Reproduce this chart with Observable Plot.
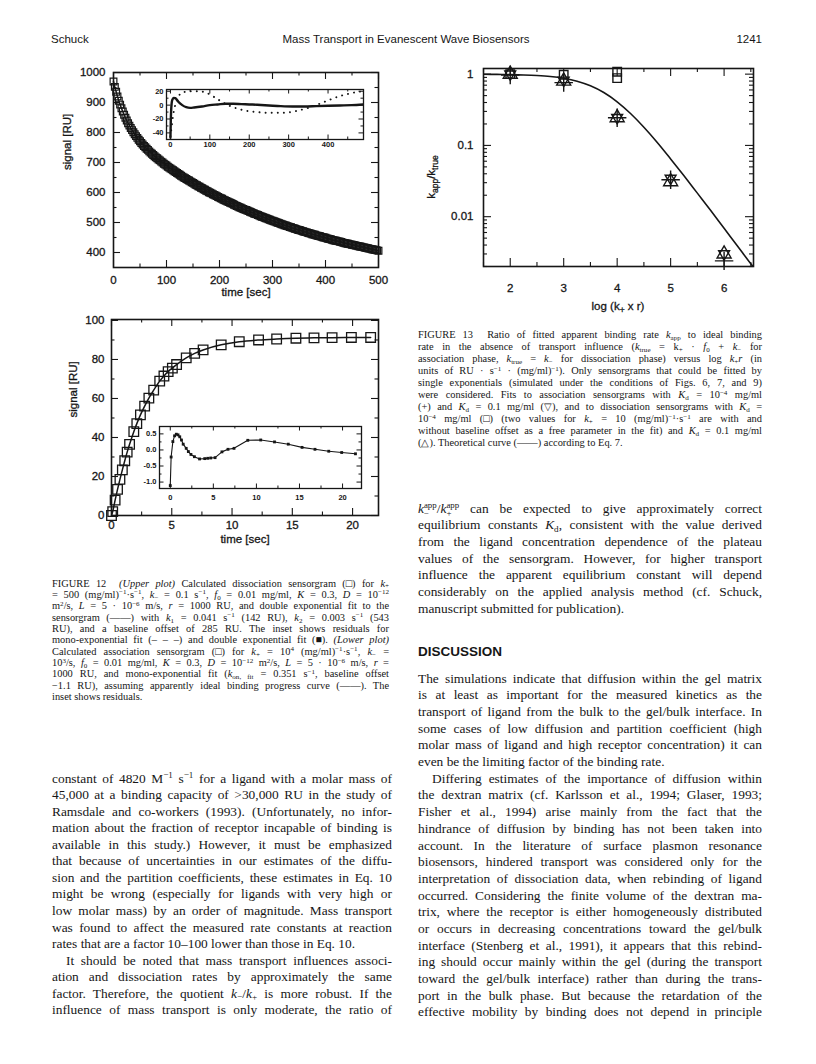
<!DOCTYPE html>
<html><head><meta charset="utf-8">
<script src="https://cdn.jsdelivr.net/npm/d3@7"></script>
<script src="https://cdn.jsdelivr.net/npm/@observablehq/plot@0.6"></script>
<style>
body{margin:0;background:#fff;}
#page{position:relative;width:816px;height:1064px;overflow:hidden;background:#fff;color:#161616;}
.hdr{position:absolute;font-family:"Liberation Sans",Arial,sans-serif;font-size:11.5px;line-height:14px;white-space:nowrap;}
.ln{position:absolute;white-space:nowrap;font-family:"Liberation Serif","Times New Roman",serif;}
.ln sup,.ln sub{font-size:0.68em;line-height:0;position:relative;vertical-align:baseline;}
.ln sup{top:-0.48em;}
.ln sub{top:0.28em;}
.ss{display:inline-block;vertical-align:-0.38em;font-size:0.66em;line-height:0.95;}
.ss span{display:block;}
.disc{position:absolute;font-family:"Liberation Sans",Arial,sans-serif;font-weight:bold;font-size:13.5px;line-height:16px;}
svg{position:absolute;overflow:visible;}
svg.main text{stroke:#161616;stroke-width:0.3px;}
</style></head><body><div id="page"></div>
<script>
const INK = "#161616";
const SANS = "'Liberation Sans', Arial, Helvetica, sans-serif";

// ---------- Figure 12, upper plot: dissociation sensorgram (time in s, signal in RU) ----------
const dissocTime = [0,2.5,5,7.5,10,12.5,15,17.5,20,22.5,25,27.5,30,32.5,35,37.5,40,42.5,45,47.5,50,52.5,55,57.5,60,62.5,65,67.5,70,72.5,75,77.5,80,82.5,85,87.5,90,92.5,95,97.5,100,102.5,105,107.5,110,112.5,115,117.5,120,122.5,125,127.5,130,132.5,135,137.5,140,142.5,145,147.5,150,152.5,155,157.5,160,162.5,165,167.5,170,172.5,175,177.5,180,182.5,185,187.5,190,192.5,195,197.5,200,202.5,205,207.5,210,212.5,215,217.5,220,222.5,225,227.5,230,232.5,235,237.5,240,242.5,245,247.5,250,252.5,255,257.5,260,262.5,265,267.5,270,272.5,275,277.5,280,282.5,285,287.5,290,292.5,295,297.5,300,302.5,305,307.5,310,312.5,315,317.5,320,322.5,325,327.5,330,332.5,335,337.5,340,342.5,345,347.5,350,352.5,355,357.5,360,362.5,365,367.5,370,372.5,375,377.5,380,382.5,385,387.5,390,392.5,395,397.5,400,402.5,405,407.5,410,412.5,415,417.5,420,422.5,425,427.5,430,432.5,435,437.5,440,442.5,445,447.5,450,452.5,455,457.5,460,462.5,465,467.5,470,472.5,475,477.5,480,482.5,485,487.5,490,492.5,495,497.5,500];
const dissocSignal = [970,952,936,920,906,893,881,870,859,849,840,831,823,815,808,801,794,788,782,776,771,765,760,755,751,746,742,737,733,729,725,721,717,714,710,707,703,700,696,693,690,686,683,680,677,674,671,668,665,662,659,656,653,650,648,645,642,640,637,634,632,629,626,624,621,619,616,614,611,609,606,604,601,599,597,594,592,590,588,585,583,581,579,576,574,572,570,568,566,564,562,559,557,555,553,551,549,547,545,543,542,540,538,536,534,532,530,528,527,525,523,521,519,518,516,514,513,511,509,507,506,504,503,501,499,498,496,494,493,491,490,488,487,485,484,482,481,479,478,476,475,474,472,471,469,468,467,465,464,463,461,460,459,457,456,455,454,452,451,450,449,447,446,445,444,442,441,440,439,438,437,436,435,433,432,431,430,429,428,427,426,425,424,423,422,421,420,419,418,417,416,415,414,413,412,411,410,409,408,407,406];
const upperXTicks = [0,100,200,300,400,500];
const upperXMinor = [50,150,250,350,450];
const upperYTicks = [400,500,600,700,800,900,1000];
const upperYMinor = [450,550,650,750,850,950];

// inset: residuals
const monoResTime = [0,3,6,10,15,20,30,50,70,90,110,130,150,170,190,210,230,250,270,290,310,330,350,370,390,410,430,450,470,490];
const monoResValue = [-45,-32,-18,-5,5,12,18,20,20,18,12,5,-1,-5,-8,-9.5,-10.5,-11,-11,-11,-9.5,-7,-4,0,4.5,9,13,16,18.5,20];
const dblResTime = [0,1,3,5,8,12,16,20,30,40,50,60,80,100,120,140,160,180,200,220,250,280,310,340,370,400,430,460,490];
const dblResValue = [-47,-20,2,8,10.5,10,8,5,0,-3,-4,-3.5,-2,0,1,2,2,1.5,1,0.5,-0.5,-1.5,-2,-2,-1.5,-1,-0.5,0,1];
const insetAXTicks = [0,100,200,300,400];
const insetAXMinor = [50,150,250,350,450];
const insetAYTicks = [-40,-20,0,20];
const insetAYMinor = [-30,-10,10];

// ---------- Figure 12, lower plot: association sensorgram ----------
const assocTime = [0,0.1,0.3,0.5,0.7,0.9,1.1,1.3,1.5,1.85,2.1,2.4,2.75,3.1,3.5,4.0,4.35,4.7,5.05,5.4,6.2,6.9,7.6,9.1,10.6,12.2,13.7,15.3,16.8,18.3,19.9,21.5];
const assocSignal = [0,2.0,7.9,13.4,18.5,23.4,28.1,32.5,36.5,43.0,47.1,51.6,56.1,60.2,64.3,68.9,71.5,73.8,75.6,77.4,80.8,83.1,84.9,87.5,89.1,90.0,90.5,90.9,91.1,91.2,91.3,91.3];
const lowerXTicks = [0,5,10,15,20];
const lowerXMinor = [2.5,7.5,12.5,17.5];
const lowerYTicks = [0,20,40,60,80,100];
const lowerYMinor = [10,30,50,70,90];

const assocResTime = [0,0.1,0.3,0.5,0.7,0.9,1.1,1.3,1.5,1.85,2.1,2.4,2.8,3.4,4.0,4.35,4.7,5.2,6.0,6.7,7.4,9.0,10.5,12.1,13.7,15.3,16.8,18.4,19.9,21.5];
const assocResValue = [-1.11,-0.22,0.26,0.44,0.49,0.47,0.41,0.31,0.18,0.05,-0.05,-0.14,-0.21,-0.28,-0.27,-0.26,-0.25,-0.24,-0.06,0.02,0.05,0.30,0.31,0.25,0.18,0.08,0.02,-0.04,-0.08,-0.12];
const insetBXTicks = [0,5,10,15,20];
const insetBXMinor = [2.5,7.5,12.5,17.5];
const insetBYTicks = [-1.0,-0.5,0.0,0.5];
const insetBYMinor = [-0.75,-0.25,0.25];

// ---------- Figure 13 ----------
const theoryLogKr = [1.5,1.75,2,2.25,2.5,2.75,3,3.25,3.5,3.75,4,4.25,4.5,4.75,5,5.25,5.5,5.75,6,6.25,6.5,6.55];
const theoryRatio = [0.995,0.992,0.986,0.975,0.956,0.925,0.874,0.796,0.686,0.552,0.409,0.280,0.180,0.110,0.0647,0.0375,0.0214,0.0122,0.00687,0.00388,0.00218,0.00195];
const assocHighAffX = [2,3,4,5,6];            // (+)  Kd = 1e-4 mg/ml
const assocHighAffY = [0.97,0.76,0.245,0.033,0.0024];
const assocLowAffX = [2,3,4,5,6];             // (▽) Kd = 0.1 mg/ml
const assocLowAffY = [1.0,0.82,0.245,0.0345,0.003];
const dissocHighAffX = [2,3,4,4];             // (□) Kd = 1e-4 mg/ml
const dissocHighAffY = [1.0,0.98,1.08,0.88];
const dissocLowAffX = [2,3,4,5,6];            // (△) Kd = 0.1 mg/ml
const dissocLowAffY = [1.0,0.8,0.245,0.031,0.003];
const f13XTicks = [2,3,4,5,6];
const f13XMinor = [1.5,2.5,3.5,4.5,5.5,6.5];
const f13YTicks = [0.01,0.1,1];
const f13YMinor = [0.002,0.003,0.004,0.005,0.006,0.007,0.008,0.009,0.02,0.03,0.04,0.05,0.06,0.07,0.08,0.09,0.2,0.3,0.4,0.5,0.6,0.7,0.8,0.9];

const page = document.getElementById("page");
const zipXY = (xs, ys) => xs.map((x, i) => ({x, y: ys[i]}));

function frameTicks({xMaj = [], xMin = [], yMaj = [], yMin = [], iw, ih, L, l, sw = 1.1}) {
  const m = [];
  for (const [arr, len] of [[xMaj, L], [xMin, l]]) {
    m.push(Plot.tickX(arr, {x: d => d, insetTop: ih - len, stroke: INK, strokeWidth: sw}));
    m.push(Plot.tickX(arr, {x: d => d, insetBottom: ih - len, stroke: INK, strokeWidth: sw}));
  }
  for (const [arr, len] of [[yMaj, L], [yMin, l]]) {
    m.push(Plot.tickY(arr, {y: d => d, insetRight: iw - len, stroke: INK, strokeWidth: sw}));
    m.push(Plot.tickY(arr, {y: d => d, insetLeft: iw - len, stroke: INK, strokeWidth: sw}));
  }
  return m;
}
function place(svg, left, top, cls) {
  svg.style.left = left + "px";
  svg.style.top = top + "px";
  if (cls) svg.classList.add(cls);
  page.appendChild(svg);
  return svg;
}

// ----- Chart A (upper plot) -----
{
  const W = 360, H = 250, mL = 83, mT = 16, iw = 265, ih = 195;
  const data = zipXY(dissocTime, dissocSignal);
  const svg = Plot.plot({
    width: W, height: H, marginLeft: mL, marginTop: mT, marginRight: W - mL - iw, marginBottom: H - mT - ih,
    style: {fontFamily: SANS, fontSize: "11.5px", background: "transparent", color: INK},
    x: {domain: [0, 500]}, y: {domain: [350, 1000]},
    marks: [
      Plot.frame({stroke: INK, strokeWidth: 1.6}),
      ...frameTicks({xMaj: upperXTicks, xMin: upperXMinor, yMaj: upperYTicks, yMin: upperYMinor, iw, ih, L: 7, l: 3.5}),
      Plot.axisX(upperXTicks, {tickSize: 0, tickPadding: 8, label: null, tickFormat: d => String(d)}),
      Plot.axisY(upperYTicks, {tickSize: 0, tickPadding: 8, label: null, tickFormat: d => String(d)}),
      Plot.dot(data, {x: "x", y: "y", symbol: "square", r: 3.8, stroke: INK, strokeWidth: 1.2, fill: "none"}),
      Plot.line(data, {x: "x", y: "y", stroke: INK, strokeWidth: 1.5}),
      Plot.text(["time [sec]"], {text: d => d, frameAnchor: "bottom", dy: 28, fill: INK}),
      Plot.text(["signal [RU]"], {text: d => d, frameAnchor: "left", rotate: -90, dx: -46, fill: INK})
    ]
  });
  place(svg, 30, 56, "main");
}
// ----- Inset A -----
{
  const W = 236, H = 74, mL = 30, mT = 7, iw = 197, ih = 50;
  const svg = Plot.plot({
    width: W, height: H, marginLeft: mL, marginTop: mT, marginRight: W - mL - iw, marginBottom: H - mT - ih,
    style: {fontFamily: SANS, fontSize: "7.5px", fontWeight: "bold", background: "transparent", color: INK},
    x: {domain: [-10, 490]}, y: {domain: [-49.5, 22.5]},
    marks: [
      Plot.frame({fill: "white", stroke: INK, strokeWidth: 1.3}),
      ...frameTicks({xMaj: insetAXTicks, xMin: insetAXMinor, yMaj: insetAYTicks, yMin: insetAYMinor, iw, ih, L: 4.5, l: 2.5, sw: 1}),
      Plot.axisX(insetAXTicks, {tickSize: 0, tickPadding: 2, label: null, tickFormat: d => String(d)}),
      Plot.axisY(insetAYTicks, {tickSize: 0, tickPadding: 3, label: null, tickFormat: d => String(d)}),
      Plot.line(zipXY(monoResTime, monoResValue), {x: "x", y: "y", stroke: INK, strokeWidth: 1.9, strokeDasharray: "0.1,6", strokeLinecap: "round", curve: "monotone-x", clip: true}),
      Plot.line(zipXY(dblResTime, dblResValue), {x: "x", y: "y", stroke: INK, strokeWidth: 2.4, curve: "monotone-x", clip: true})
    ]
  });
  place(svg, 136, 82);
}
// ----- Chart B (lower plot) -----
{
  const W = 360, H = 250, mL = 81, mT = 14, iw = 267, ih = 196;
  const data = zipXY(assocTime, assocSignal);
  const svg = Plot.plot({
    width: W, height: H, marginLeft: mL, marginTop: mT, marginRight: W - mL - iw, marginBottom: H - mT - ih,
    style: {fontFamily: SANS, fontSize: "11.5px", background: "transparent", color: INK},
    x: {domain: [0, 22.15]}, y: {domain: [0, 100.5]},
    marks: [
      Plot.frame({stroke: INK, strokeWidth: 1.6}),
      ...frameTicks({xMaj: lowerXTicks, xMin: lowerXMinor, yMaj: lowerYTicks, yMin: lowerYMinor, iw, ih, L: 7, l: 3.5}),
      Plot.axisX(lowerXTicks, {tickSize: 0, tickPadding: 5, label: null, tickFormat: d => String(d)}),
      Plot.axisY(lowerYTicks, {tickSize: 0, tickPadding: 7, label: null, tickFormat: d => String(d)}),
      Plot.line(data, {x: "x", y: "y", stroke: INK, strokeWidth: 1.5, curve: "catmull-rom"}),
      Plot.dot(data, {x: "x", y: "y", symbol: "square", r: 5.4, stroke: INK, strokeWidth: 1.3, fill: "none"}),
      Plot.text(["time [sec]"], {text: d => d, frameAnchor: "bottom", dy: 27, fill: INK}),
      Plot.text(["signal [RU]"], {text: d => d, frameAnchor: "left", rotate: -90, dx: -38, fill: INK})
    ]
  });
  place(svg, 30, 305, "main");
}
// ----- Inset B -----
{
  const W = 240, H = 90, mL = 30, mT = 6, iw = 202, ih = 62;
  const data = zipXY(assocResTime, assocResValue);
  const svg = Plot.plot({
    width: W, height: H, marginLeft: mL, marginTop: mT, marginRight: W - mL - iw, marginBottom: H - mT - ih,
    style: {fontFamily: SANS, fontSize: "7.5px", fontWeight: "bold", background: "transparent", color: INK},
    x: {domain: [-1.25, 22.2]}, y: {domain: [-1.2, 0.73]},
    marks: [
      Plot.frame({fill: "white", stroke: INK, strokeWidth: 1.3}),
      ...frameTicks({xMaj: insetBXTicks, xMin: insetBXMinor, yMaj: insetBYTicks, yMin: insetBYMinor, iw, ih, L: 4.5, l: 2.5, sw: 1}),
      Plot.axisX(insetBXTicks, {tickSize: 0, tickPadding: 6, label: null, tickFormat: d => String(d)}),
      Plot.axisY(insetBYTicks, {tickSize: 0, tickPadding: 3, label: null, tickFormat: d => d.toFixed(1)}),
      Plot.line(data, {x: "x", y: "y", stroke: INK, strokeWidth: 1.1}),
      Plot.dot(data, {x: "x", y: "y", symbol: "square", r: 1.6, fill: INK, stroke: "none"})
    ]
  });
  place(svg, 129, 420);
}
// ----- Chart C (Figure 13) -----
{
  const W = 365, H = 265, mL = 78, mT = 13, iw = 270, ih = 198;
  const triDown = {draw(ctx, size) {
    const s = Math.sqrt(size) * 0.6824, t = s / 2, u = s * Math.sqrt(3) / 2;
    ctx.moveTo(0, s); ctx.lineTo(u, -t); ctx.lineTo(-u, -t); ctx.closePath();
  }};
  const dotOpts = {x: "x", y: "y", stroke: INK, strokeWidth: 1.4, fill: "none", r: 5.2};
  const svg = Plot.plot({
    width: W, height: H, marginLeft: mL, marginTop: mT, marginRight: W - mL - iw, marginBottom: H - mT - ih,
    style: {fontFamily: SANS, fontSize: "11.5px", background: "transparent", color: INK},
    x: {domain: [1.5, 6.55]}, y: {type: "log", domain: [0.002, 1.2]},
    marks: [
      Plot.frame({stroke: INK, strokeWidth: 1.6}),
      ...frameTicks({xMaj: f13XTicks, xMin: f13XMinor, yMaj: f13YTicks, yMin: f13YMinor, iw, ih, L: 8, l: 4}),
      Plot.axisX(f13XTicks, {tickSize: 0, tickPadding: 17, label: null, tickFormat: d => String(d)}),
      Plot.axisY(f13YTicks, {tickSize: 0, tickPadding: 10, label: null, tickFormat: d => String(d)}),
      Plot.line(zipXY(theoryLogKr, theoryRatio), {x: "x", y: "y", stroke: INK, strokeWidth: 1.6, curve: "monotone-x", clip: true}),
      Plot.dot(zipXY(assocHighAffX, assocHighAffY), {...dotOpts, symbol: "plus", r: 6}),
      Plot.dot(zipXY(assocLowAffX, assocLowAffY), {...dotOpts, symbol: triDown}),
      Plot.dot(zipXY(dissocHighAffX, dissocHighAffY), {...dotOpts, symbol: "square", r: 4.8}),
      Plot.dot(zipXY(dissocLowAffX, dissocLowAffY), {...dotOpts, symbol: "triangle"})
    ]
  });
  const s = d3.select(svg);
  const yl = s.append("text").attr("transform", "translate(30,122) rotate(-90)").attr("text-anchor", "middle")
    .attr("font-family", SANS).attr("font-size", 11.5).attr("fill", INK);
  yl.append("tspan").text("k");
  yl.append("tspan").attr("font-size", 8.5).attr("dy", 3).text("app");
  yl.append("tspan").attr("dy", -3).text("/k");
  yl.append("tspan").attr("font-size", 8.5).attr("dy", 3).text("true");
  const xl = s.append("text").attr("transform", "translate(213,255)").attr("text-anchor", "middle")
    .attr("font-family", SANS).attr("font-size", 11.5).attr("fill", INK);
  xl.append("tspan").text("log (k");
  xl.append("tspan").attr("font-size", 8.5).attr("dy", 2.5).text("+");
  xl.append("tspan").attr("dy", -2.5).text(" x r)");
  place(svg, 405, 55, "main");
}

// ---------- header ----------
function hdr(text, css) {
  const d = document.createElement("div");
  d.className = "hdr"; d.textContent = text; Object.assign(d.style, css); page.appendChild(d);
}
hdr("Schuck", {left: "51px", top: "32px"});
hdr("Mass Transport in Evanescent Wave Biosensors", {left: "406px", top: "32px", transform: "translateX(-50%)"});
hdr("1241", {right: (816 - 762) + "px", top: "32px"});

// ---------- text blocks ----------
function placeLines(lines, {x, y0, dy, w, fs, lh}) {
  lines.forEach((ln, i) => {
    const d = document.createElement("div");
    d.className = "ln";
    const ind = ln.i || 0;
    Object.assign(d.style, {left: (x + ind) + "px", top: (y0 + i * dy - lh / 2) + "px", fontSize: fs + "px", lineHeight: lh + "px"});
    const s = document.createElement("span");
    s.innerHTML = ln.h;
    d.appendChild(s);
    page.appendChild(d);
    const target = w - ind;
    const nat = s.getBoundingClientRect().width;
    const nsp = (s.textContent.match(/[ \u00a0]/g) || []).length;
    let cur = nat;
    if (ln.j !== false && nsp > 0) {
      let ws = (target - nat) / nsp;
      if (ws < -1.5) ws = -1.5;
      d.style.wordSpacing = ws + "px";
      cur = s.getBoundingClientRect().width;
    }
    if (cur > target + 0.5) {
      s.style.display = "inline-block";
      s.style.transformOrigin = "0 50%";
      s.style.transform = `scaleX(${target / cur})`;
    }
  });
}
const kp = "<i>k</i><sub>+</sub>", km = "<i>k</i><sub>−</sub>", Kd = "<i>K</i><sub>d</sub>";
placeLines([
  {h: "FIGURE 12 &nbsp;<i>(Upper plot)</i> Calculated dissociation sensorgram (□) for " + kp},
  {h: "= 500 (mg/ml)<sup>−1</sup>·s<sup>−1</sup>, " + km + " = 0.1 s<sup>−1</sup>, <i>f</i><sub>0</sub> = 0.01 mg/ml, <i>K</i> = 0.3, <i>D</i> = 10<sup>−12</sup>"},
  {h: "m<sup>2</sup>/s, <i>L</i> = 5 · 10<sup>−6</sup> m/s, <i>r</i> = 1000 RU, and double exponential fit to the"},
  {h: "sensorgram (——) with <i>k</i><sub>1</sub> = 0.041 s<sup>−1</sup> (142 RU), <i>k</i><sub>2</sub> = 0.003 s<sup>−1</sup> (543"},
  {h: "RU), and a baseline offset of 285 RU. The inset shows residuals for"},
  {h: "mono-exponential fit (– – –) and double exponential fit (■). <i>(Lower plot)</i>"},
  {h: "Calculated association sensorgram (□) for " + kp + " = 10<sup>4</sup> (mg/ml)<sup>−1</sup>·s<sup>−1</sup>, " + km + " ="},
  {h: "10<sup>3</sup>/s, <i>f</i><sub>0</sub> = 0.01 mg/ml, <i>K</i> = 0.3, <i>D</i> = 10<sup>−12</sup> m<sup>2</sup>/s, <i>L</i> = 5 · 10<sup>−6</sup> m/s, <i>r</i> ="},
  {h: "1000 RU, and mono-exponential fit (<i>k</i><sub>on, fit</sub> = 0.351 s<sup>−1</sup>, baseline offset"},
  {h: "−1.1 RU), assuming apparently ideal binding progress curve (——). The"},
  {h: "inset shows residuals.", j: false}
], {x: 52, y0: 583.5, dy: 11.35, w: 337, fs: 10.4, lh: 12});

placeLines([
  {h: "FIGURE 13 &nbsp;Ratio of fitted apparent binding rate <i>k</i><sub>app</sub> to ideal binding"},
  {h: "rate in the absence of transport influence (<i>k</i><sub>true</sub> = k<sub>+</sub> · <i>f</i><sub>0</sub> + " + km + " for"},
  {h: "association phase, <i>k</i><sub>true</sub> = " + km + " for dissociation phase) versus log " + kp + "<i>r</i> (in"},
  {h: "units of RU · s<sup>−1</sup> · (mg/ml)<sup>−1</sup>). Only sensorgrams that could be fitted by"},
  {h: "single exponentials (simulated under the conditions of Figs. 6, 7, and 9)"},
  {h: "were considered. Fits to association sensorgrams with " + Kd + " = 10<sup>−4</sup> mg/ml"},
  {h: "(+) and " + Kd + " = 0.1 mg/ml (▽), and to dissociation sensorgrams with " + Kd + " ="},
  {h: "10<sup>−4</sup> mg/ml (□) (two values for " + kp + " = 10 (mg/ml)<sup>−1</sup>·s<sup>−1</sup> are with and"},
  {h: "without baseline offset as a free parameter in the fit) and " + Kd + " = 0.1 mg/ml"},
  {h: "(△). Theoretical curve (——) according to Eq. 7.", j: false}
], {x: 418, y0: 335, dy: 12.0, w: 344, fs: 10.4, lh: 12});

placeLines([
  {h: "constant of 4820 M<sup>−1</sup> s<sup>−1</sup> for a ligand with a molar mass of"},
  {h: "45,000 at a binding capacity of &gt;30,000 RU in the study of"},
  {h: "Ramsdale and co-workers (1993). (Unfortunately, no infor-"},
  {h: "mation about the fraction of receptor incapable of binding is"},
  {h: "available in this study.) However, it must be emphasized"},
  {h: "that because of uncertainties in our estimates of the diffu-"},
  {h: "sion and the partition coefficients, these estimates in Eq. 10"},
  {h: "might be wrong (especially for ligands with very high or"},
  {h: "low molar mass) by an order of magnitude. Mass transport"},
  {h: "was found to affect the measured rate constants at reaction"},
  {h: "rates that are a factor 10–100 lower than those in Eq. 10.", j: false},
  {h: "It should be noted that mass transport influences associ-", i: 14},
  {h: "ation and dissociation rates by approximately the same"},
  {h: "factor. Therefore, the quotient " + km + "/" + kp + " is more robust. If the"},
  {h: "influence of mass transport is only moderate, the ratio of"}
], {x: 52, y0: 778, dy: 16.57, w: 340, fs: 13.4, lh: 15});

placeLines([
  {h: "<i>k</i><span class='ss'><span>app</span><span>−</span></span>/<i>k</i><span class='ss'><span>app</span><span>+</span></span> can be expected to give approximately correct"},
  {h: "equilibrium constants " + Kd + ", consistent with the value derived"},
  {h: "from the ligand concentration dependence of the plateau"},
  {h: "values of the sensorgram. However, for higher transport"},
  {h: "influence the apparent equilibrium constant will depend"},
  {h: "considerably on the applied analysis method (cf. Schuck,"},
  {h: "manuscript submitted for publication).", j: false}
], {x: 418, y0: 508.3, dy: 16.67, w: 344, fs: 13.4, lh: 15});

{
  const d = document.createElement("div");
  d.className = "disc"; d.textContent = "DISCUSSION";
  Object.assign(d.style, {left: "418px", top: (651.7 - 8) + "px"});
  page.appendChild(d);
}

placeLines([
  {h: "The simulations indicate that diffusion within the gel matrix"},
  {h: "is at least as important for the measured kinetics as the"},
  {h: "transport of ligand from the bulk to the gel/bulk interface. In"},
  {h: "some cases of low diffusion and partition coefficient (high"},
  {h: "molar mass of ligand and high receptor concentration) it can"},
  {h: "even be the limiting factor of the binding rate.", j: false},
  {h: "Differing estimates of the importance of diffusion within", i: 14},
  {h: "the dextran matrix (cf. Karlsson et al., 1994; Glaser, 1993;"},
  {h: "Fisher et al., 1994) arise mainly from the fact that the"},
  {h: "hindrance of diffusion by binding has not been taken into"},
  {h: "account. In the literature of surface plasmon resonance"},
  {h: "biosensors, hindered transport was considered only for the"},
  {h: "interpretation of dissociation data, when rebinding of ligand"},
  {h: "occurred. Considering the finite volume of the dextran ma-"},
  {h: "trix, where the receptor is either homogeneously distributed"},
  {h: "or occurs in decreasing concentrations toward the gel/bulk"},
  {h: "interface (Stenberg et al., 1991), it appears that this rebind-"},
  {h: "ing should occur mainly within the gel (during the transport"},
  {h: "toward the gel/bulk interface) rather than during the trans-"},
  {h: "port in the bulk phase. But because the retardation of the"},
  {h: "effective mobility by binding does not depend in principle"}
], {x: 418, y0: 678.3, dy: 16.67, w: 344, fs: 13.4, lh: 15});
</script></body></html>
